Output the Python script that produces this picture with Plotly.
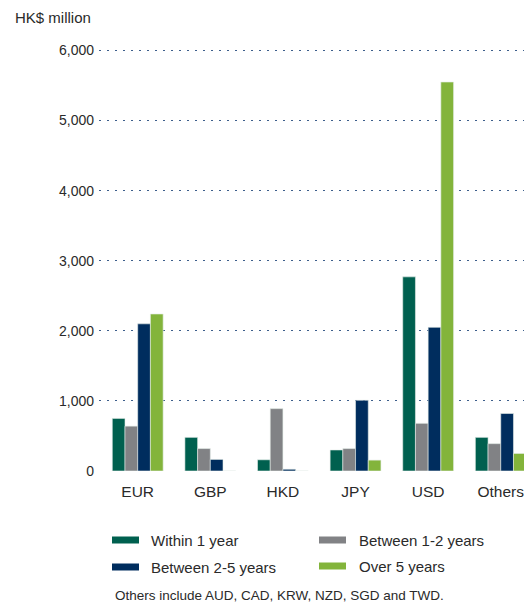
import plotly.graph_objects as go

# Currencies on the x axis
currencies = ["EUR", "GBP", "HKD", "JPY", "USD", "Others"]

# Amounts by maturity band (HK$ million)
within_1_year = [750, 480, 160, 300, 2770, 480]
between_1_2_years = [640, 320, 890, 320, 680, 390]
between_2_5_years = [2100, 165, 25, 1010, 2050, 820]
over_5_years = [2240, 0, 0, 155, 5550, 250]

series_names = ["Within 1 year", "Between 1-2 years", "Between 2-5 years", "Over 5 years"]
series_values = [within_1_year, between_1_2_years, between_2_5_years, over_5_years]
series_colors = ["#00604f", "#818285", "#002d5e", "#83b43b"]

y_tickvals = [0, 1000, 2000, 3000, 4000, 5000, 6000]
y_ticktext = ["0", "1,000", "2,000", "3,000", "4,000", "5,000", "6,000"]

TEXT = "#2a2a2a"
FONT = "Liberation Sans"

W, H = 524, 602
M_L, M_R, M_T, M_B = 99, 0, 47, 131
PW, PH = W - M_L - M_R, H - M_T - M_B


def px_x(px):
    return (px - M_L) / PW


def px_y(py):
    return (H - M_B - py) / PH


fig = go.Figure()
for name, vals, color in zip(series_names, series_values, series_colors):
    fig.add_trace(go.Bar(
        x=currencies, y=vals, name=name,
        marker=dict(color=color, line=dict(color="#e4ece8", width=0.6)),
        showlegend=False,
    ))

# Legend drawn as flat swatches with labels, two per row
legend_pos = [(112, 540, 149), (319, 540, 357), (112, 567, 149), (319, 566, 357)]
shapes, annotations = [], []
for (sx, sy, tx), name, color in zip(legend_pos, series_names, series_colors):
    shapes.append(dict(
        type="rect", xref="paper", yref="paper",
        x0=px_x(sx), x1=px_x(sx + 27), y0=px_y(sy + 3.5), y1=px_y(sy - 3.5),
        fillcolor=color, line=dict(width=0),
    ))
    annotations.append(dict(
        text=name, xref="paper", yref="paper", x=px_x(tx), y=px_y(sy),
        xanchor="left", yanchor="middle", showarrow=False,
        font=dict(family=FONT, size=15, color=TEXT),
    ))

annotations.append(dict(
    text="HK$ million", xref="paper", yref="paper", x=px_x(13), y=px_y(18),
    xanchor="left", yanchor="middle", showarrow=False,
    font=dict(family=FONT, size=15, color=TEXT),
))
annotations.append(dict(
    text="Others include AUD, CAD, KRW, NZD, SGD and TWD.",
    xref="paper", yref="paper", x=px_x(113), y=px_y(595),
    xanchor="left", yanchor="middle", showarrow=False,
    font=dict(family=FONT, size=13.5, color=TEXT),
))

fig.update_layout(
    width=W, height=H,
    margin=dict(l=M_L, r=M_R, t=M_T, b=M_B, pad=0),
    paper_bgcolor="white", plot_bgcolor="white",
    barmode="group", bargap=0.3, bargroupgap=0,
    font=dict(family=FONT, color=TEXT),
    shapes=shapes, annotations=annotations,
    xaxis=dict(
        range=[-0.533, 5.32], showgrid=False, showline=False, zeroline=False,
        ticks="", ticklabelstandoff=9, tickfont=dict(size=15.5, color=TEXT),
    ),
    yaxis=dict(
        range=[0, 6050], tickvals=y_tickvals, ticktext=y_ticktext,
        showgrid=True, gridcolor="#3d5f8c", gridwidth=1.2, griddash="1.5px,6.5px",
        zeroline=True, zerolinecolor="rgba(0,0,0,0)", showline=False,
        ticks="", ticklabelstandoff=4, tickfont=dict(size=14, color=TEXT),
    ),
)

fig.write_html("out.html")
